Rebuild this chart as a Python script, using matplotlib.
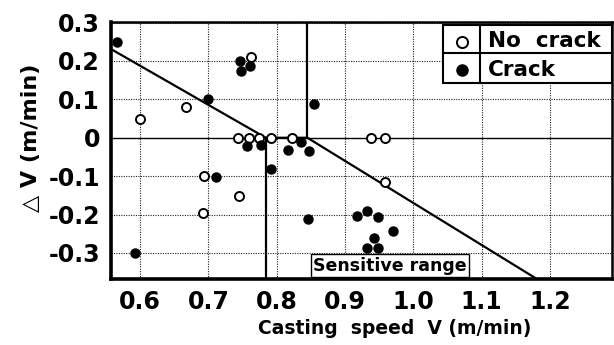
import matplotlib
matplotlib.use('Agg')
import matplotlib.pyplot as plt
from matplotlib.patches import Rectangle
import numpy as np

plt.rcParams['font.family'] = ['DejaVu Sans']
plt.rcParams['font.weight'] = 'bold'

# No crack (open circles)
nocrack_v = [0.600, 0.668, 0.762, 0.744, 0.760, 0.774, 0.792, 0.822,
             0.938, 0.958, 0.959, 0.693, 0.745, 0.692]
nocrack_dv = [0.048, 0.079, 0.210, 0.000, 0.000, 0.000, 0.000, 0.000,
              0.000, 0.000, -0.116, -0.100, -0.152, -0.197]

# Crack (filled circles)
crack_v = [0.566, 0.746, 0.748, 0.761, 0.699, 0.855, 0.756, 0.777,
           0.817, 0.835, 0.848, 0.791, 0.711, 0.846, 0.592, 0.918,
           0.933, 0.949, 0.971, 0.943, 0.933, 0.949]
crack_dv = [0.250, 0.200, 0.174, 0.188, 0.100, 0.089, -0.021, -0.020,
            -0.033, -0.010, -0.034, -0.081, -0.102, -0.211, -0.300, -0.204,
            -0.191, -0.206, -0.242, -0.260, -0.288, -0.288]

# boundary line (two parallel pieces joined along dV = 0)
bound_v = [0.5575, 0.784, 0.845, 1.181]
bound_dv = [0.231, 0.0, 0.0, -0.368]

# sensitive range edges
sens_lo = 0.784
sens_hi = 0.845

xticks = [0.6, 0.7, 0.8, 0.9, 1.0, 1.1, 1.2]
xtick_labels = ['0.6', '0.7', '0.8', '0.9', '1.0', '1.1', '1.2']
yticks = [0.3, 0.2, 0.1, 0.0, -0.1, -0.2, -0.3]
ytick_labels = ['0.3', '0.2', '0.1', '0', '-0.1', '-0.2', '-0.3']

fig = plt.figure(figsize=(6.14, 3.45), dpi=100)
ax = fig.add_axes([0.1808, 0.1913, 0.816, 0.745])

ax.set_xlim(0.5575, 1.291)
ax.set_ylim(-0.368, 0.3016)

# dotted grid
dot = (0, (1, 1.2))
for xv in xticks:
    ax.axvline(xv, color='#222222', lw=0.8, ls=dot, zorder=1)
for yv in yticks:
    if yv != 0.0:
        ax.axhline(yv, color='#222222', lw=0.8, ls=dot, zorder=1)
ax.axhline(0.0, color='black', lw=1.0, zorder=1)

# sensitive range verticals
ax.plot([sens_lo, sens_lo], [0.0, -0.368], color='black', lw=1.6, zorder=2)
ax.plot([sens_hi, sens_hi], [0.0, 0.3016], color='black', lw=1.6, zorder=2)

ax.plot(bound_v, bound_dv, color='black', lw=1.6, zorder=2)

ax.plot(nocrack_v, nocrack_dv, 'o', ms=6.5, mfc='white', mec='black',
        mew=1.4, ls='none', zorder=3)
ax.plot(crack_v, crack_dv, 'o', ms=6.5, mfc='black', mec='black',
        ls='none', zorder=3, clip_on=True)

ax.text(0.966, -0.333, 'Sensitive range', fontsize=12.5, fontweight='bold',
        ha='center', va='center', zorder=4,
        bbox=dict(boxstyle='square,pad=0.15', fc='white', ec='black', lw=1.0))

# legend drawn as a small table
lx0, lx1, lxm = 0.663, 1.0, 0.737
ly0, ly1, lym = 0.763, 0.99, 0.879
ax.add_patch(Rectangle((lx0, ly0), lx1 - lx0, ly1 - ly0, transform=ax.transAxes,
                       fc='white', ec='black', lw=1.5, zorder=5))
ax.plot([lx0, lx1], [lym, lym], color='black', lw=1.5, transform=ax.transAxes, zorder=6)
ax.plot([lxm, lxm], [ly0, ly1], color='black', lw=1.5, transform=ax.transAxes, zorder=6)
ax.plot([0.70], [0.922], 'o', ms=8, mfc='white', mec='black', mew=1.4,
        transform=ax.transAxes, zorder=7, clip_on=False)
ax.plot([0.70], [0.813], 'o', ms=8, mfc='black', mec='black',
        transform=ax.transAxes, zorder=7, clip_on=False)
ax.text(0.752, 0.925, 'No  crack', fontsize=15.5, fontweight='bold',
        transform=ax.transAxes, ha='left', va='center', zorder=7)
ax.text(0.752, 0.815, 'Crack', fontsize=15.5, fontweight='bold',
        transform=ax.transAxes, ha='left', va='center', zorder=7)

ax.set_xticks(xticks)
ax.set_xticklabels(xtick_labels, fontsize=17, fontweight='bold')
ax.set_yticks(yticks)
ax.set_yticklabels(ytick_labels, fontsize=17, fontweight='bold')
ax.tick_params(axis='x', length=0, pad=8)
ax.tick_params(axis='y', length=0, pad=8)

ax.set_xlabel('Casting  speed  V (m/min)', fontsize=13.5, fontweight='bold')
ax.xaxis.set_label_coords(0.567, -0.155)
ax.set_ylabel('\u25b3 V (m/min)', fontsize=16, fontweight='bold')
ax.yaxis.set_label_coords(-0.14, 0.55)

for side in ['left', 'bottom']:
    ax.spines[side].set_linewidth(2.6)
for side in ['top', 'right']:
    ax.spines[side].set_linewidth(1.8)

fig.savefig('out.png', dpi=100)
